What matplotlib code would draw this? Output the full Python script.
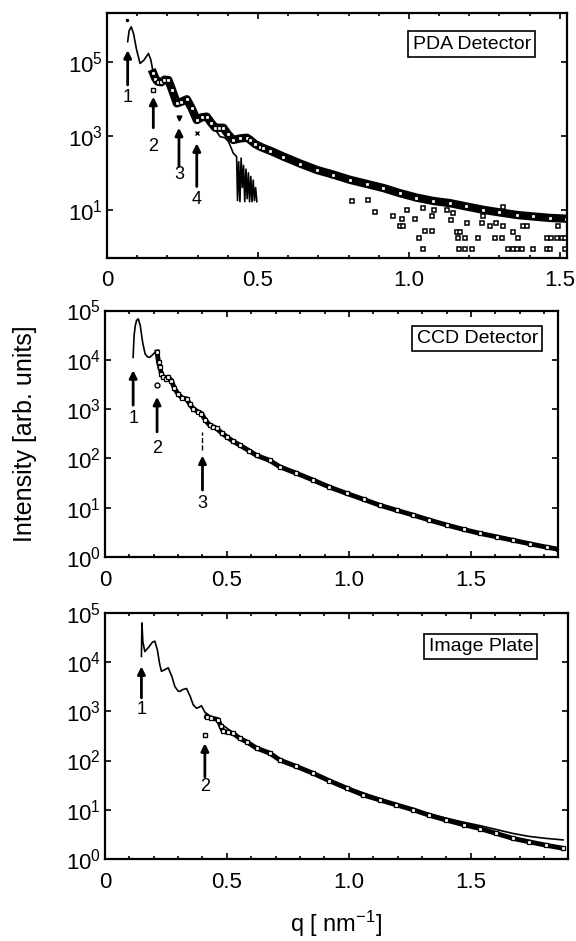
import numpy as np
import matplotlib.pyplot as plt

plt.rcParams['font.family'] = ['Liberation Sans', 'DejaVu Sans']
plt.rcParams['mathtext.fontset'] = 'custom'
plt.rcParams['mathtext.rm'] = 'Liberation Sans'
plt.rcParams['mathtext.it'] = 'Liberation Sans:italic'

# ---- PDA detector (intensities stored as log10) ----
pda_line_q = [0.068, 0.073, 0.080, 0.088, 0.097, 0.109, 0.122, 0.137, 0.145, 0.153,
              0.167, 0.185, 0.203, 0.215, 0.231, 0.248, 0.264, 0.280, 0.297, 0.313,
              0.330, 0.345, 0.360, 0.374, 0.390, 0.402, 0.418, 0.429, 0.432, 0.436,
              0.440, 0.444, 0.448, 0.452, 0.456, 0.460, 0.464, 0.468, 0.472, 0.476,
              0.480, 0.484, 0.488, 0.492, 0.496]
pda_line_logI = [5.55, 5.85, 5.95, 5.75, 5.35, 4.96, 5.05, 5.23, 5.05, 4.69,
                 4.47, 4.48, 4.51, 4.25, 3.88, 3.94, 3.99, 3.72, 3.43, 3.48,
                 3.52, 3.33, 3.15, 2.98, 2.95, 2.85, 2.53, 2.44, 1.25, 2.30,
                 1.22, 2.40, 1.60, 2.20, 1.22, 2.10, 1.30, 2.00, 1.22, 1.90,
                 1.22, 1.80, 1.25, 1.60, 1.22]
pda_q = [0.153, 0.160, 0.167, 0.180, 0.190, 0.203, 0.215, 0.231, 0.245, 0.264,
         0.280, 0.297, 0.313, 0.330, 0.345, 0.358, 0.372, 0.385, 0.400, 0.418,
         0.440, 0.463, 0.474, 0.490, 0.507, 0.518, 0.540, 0.584, 0.640, 0.694,
         0.750, 0.805, 0.860, 0.915, 0.970, 1.025, 1.080, 1.136, 1.190, 1.246,
         1.300, 1.357, 1.410, 1.467, 1.520]
pda_logI = [4.69, 4.55, 4.47, 4.45, 4.52, 4.51, 4.25, 3.88, 3.92, 3.99,
            3.75, 3.43, 3.50, 3.52, 3.35, 3.22, 3.22, 3.22, 3.05, 2.89,
            2.93, 2.95, 2.89, 2.78, 2.71, 2.67, 2.60, 2.44, 2.25, 2.08,
            1.95, 1.81, 1.70, 1.59, 1.45, 1.33, 1.24, 1.18, 1.09, 1.00,
            0.93, 0.86, 0.82, 0.78, 0.76]
pda_scatter_q = [0.810, 0.887, 0.865, 0.948, 0.976, 0.970, 0.981, 1.020, 1.034, 1.047,
                 1.053, 1.078, 1.075, 1.083, 1.141, 1.158, 1.169, 1.163, 1.185, 1.167,
                 1.185, 1.208, 1.191, 1.230, 1.241, 1.268, 1.285, 1.307, 1.290, 1.312,
                 1.312, 1.329, 1.345, 1.357, 1.373, 1.362, 1.379, 1.390, 1.412, 1.456,
                 1.472, 1.489, 1.506, 1.517, 1.456, 1.467, 1.517, 1.494, 1.345, 0.992,
                 1.047, 1.125, 1.147, 1.246]
pda_scatter_logI = [1.24, 0.93, 1.27, 0.82, 0.75, 0.57, 0.57, 0.75, 0.24, -0.06,
                    0.43, 0.43, 0.82, 1.00, 0.73, 0.41, 0.41, 0.24, 0.24, -0.06,
                    -0.06, -0.06, 0.64, 0.24, 0.64, 0.55, 0.24, 0.24, 0.64, 1.07,
                    0.55, -0.06, -0.06, -0.06, -0.06, 0.24, 0.55, 0.55, -0.06, 0.24,
                    0.24, 0.24, 0.24, 0.24, -0.06, -0.06, -0.06, 0.55, 0.41, 1.00,
                    1.04, 1.00, 0.91, 0.82]
# arrows: q, head, tail, label position (log10)
pda_arrow_q = [0.068, 0.153, 0.238, 0.297]
pda_arrow_head = [5.32, 4.06, 3.22, 2.80]
pda_arrow_tail = [4.38, 3.22, 2.17, 1.63]
pda_arrow_label = [4.03, 2.71, 1.95, 1.27]

# ---- CCD detector ----
ccd_line_q = [0.116, 0.118, 0.120, 0.125, 0.130, 0.137, 0.145, 0.155, 0.165, 0.175,
              0.184, 0.195, 0.205, 0.214]
ccd_line_logI = [4.05, 4.30, 4.50, 4.70, 4.80, 4.83, 4.70, 4.35, 4.12, 4.06,
                 4.05, 4.10, 4.15, 4.16]
ccd_q = [0.214, 0.220, 0.225, 0.232, 0.239, 0.250, 0.260, 0.273, 0.285, 0.300,
         0.318, 0.335, 0.348, 0.362, 0.380, 0.396, 0.412, 0.430, 0.445, 0.458,
         0.478, 0.499, 0.525, 0.553, 0.590, 0.622, 0.676, 0.717, 0.785, 0.854,
         0.920, 0.991, 1.060, 1.127, 1.195, 1.264, 1.330, 1.400, 1.470, 1.537,
         1.605, 1.673, 1.740, 1.810, 1.857]
ccd_logI = [4.16, 3.95, 3.85, 3.72, 3.65, 3.62, 3.65, 3.58, 3.42, 3.31,
            3.22, 3.21, 3.10, 3.01, 2.95, 2.91, 2.78, 2.67, 2.64, 2.61,
            2.52, 2.44, 2.35, 2.27, 2.16, 2.06, 1.96, 1.83, 1.70, 1.56,
            1.42, 1.29, 1.17, 1.05, 0.95, 0.85, 0.75, 0.65, 0.56, 0.48,
            0.41, 0.34, 0.27, 0.20, 0.16]
ccd_arrow_q = [0.116, 0.214, 0.400]
ccd_arrow_head = [3.79, 3.25, 2.06]
ccd_arrow_tail = [3.08, 2.54, 1.36]
ccd_arrow_label = [2.81, 2.20, 1.09]

# ---- Image plate ----
ip_line_q = [0.150, 0.152, 0.156, 0.164, 0.180, 0.195, 0.205, 0.215, 0.225, 0.232,
             0.245, 0.260, 0.275, 0.287, 0.300, 0.307, 0.320, 0.335, 0.350, 0.362,
             0.376, 0.386, 0.396, 0.410, 0.600, 0.900, 1.200, 1.330, 1.400, 1.470,
             1.537, 1.605, 1.673, 1.740, 1.810, 1.878]
ip_line_logI = [4.11, 4.79, 4.40, 4.21, 4.30, 4.40, 4.42, 4.25, 3.95, 3.81,
                3.84, 3.88, 3.70, 3.50, 3.41, 3.40, 3.44, 3.46, 3.30, 3.13,
                3.06, 3.08, 3.11, 2.98, 2.30, 1.62, 1.10, 0.92, 0.83, 0.75,
                0.68, 0.60, 0.52, 0.46, 0.42, 0.39]
ip_q = [0.417, 0.437, 0.464, 0.475, 0.485, 0.505, 0.526, 0.553, 0.581, 0.622,
        0.676, 0.717, 0.785, 0.854, 0.920, 0.991, 1.060, 1.127, 1.195, 1.264,
        1.330, 1.400, 1.470, 1.537, 1.605, 1.673, 1.740, 1.810, 1.878]
ip_logI = [2.89, 2.86, 2.83, 2.70, 2.59, 2.57, 2.55, 2.45, 2.38, 2.25,
           2.15, 2.01, 1.88, 1.74, 1.59, 1.44, 1.30, 1.20, 1.10, 1.00,
           0.89, 0.79, 0.70, 0.62, 0.52, 0.42, 0.35, 0.28, 0.22]
ip_arrow_q = [0.150, 0.410]
ip_arrow_head = [3.91, 2.35]
ip_arrow_tail = [3.27, 1.67]
ip_arrow_label = [3.03, 1.47]


def style_axes(ax, xmax, ylo, yhi, yticks):
    ax.set_yscale('log')
    ax.set_xlim(0, xmax)
    ax.set_ylim(ylo, yhi)
    ax.set_xticks([0, 0.5, 1.0, 1.5])
    ax.set_xticklabels(['0', '0.5', '1.0', '1.5'])
    ax.set_xticks(np.arange(0.1, xmax, 0.1), minor=True)
    ax.set_yticks(yticks)
    ax.set_yticklabels([r'$10^{%d}$' % int(round(np.log10(t))) for t in yticks])
    ax.tick_params(which='both', direction='in', top=True, right=True,
                   labelsize=16, width=1.2)
    ax.tick_params(which='major', length=4)
    ax.tick_params(which='minor', length=2.5)
    ax.tick_params(axis='x', pad=9)
    ax.tick_params(axis='y', pad=3)
    for s in ax.spines.values():
        s.set_linewidth(1.6)


def draw_arrows(ax, qs, heads, tails, labels):
    for i, q in enumerate(qs):
        ax.annotate('', xy=(q, 10 ** heads[i]), xytext=(q, 10 ** tails[i]),
                    arrowprops=dict(arrowstyle='-|>', color='k', lw=2,
                                    mutation_scale=11, shrinkA=0, shrinkB=0))
        ax.text(q, 10 ** labels[i], str(i + 1), ha='center', va='center',
                fontsize=13)


def draw_band(ax, q, logI, lw):
    I = 10 ** np.array(logI)
    ax.plot(q, I, '-', color='k', lw=lw, solid_joinstyle='round')
    ax.plot(q, I, 's', ms=3.0, mfc='white', mec='k', mew=0.9)


def label_box(ax, x, y, text):
    ax.text(x, y, text, transform=ax.transAxes, ha='center', va='center',
            fontsize=14, bbox=dict(boxstyle='square,pad=0.22', fc='white',
                                   ec='k', lw=1.2))


fig = plt.figure(figsize=(5.76, 9.41), dpi=100)

# PDA
ax1 = fig.add_axes([0.186, 0.726, 0.798, 0.260])
style_axes(ax1, 1.523, 10 ** -0.30, 10 ** 6.32, [1e1, 1e3, 1e5])
ax1.plot(pda_line_q, 10 ** np.array(pda_line_logI), color='k', lw=1.2)
draw_band(ax1, pda_q, pda_logI, 6)
ax1.plot(pda_scatter_q, 10 ** np.array(pda_scatter_logI), 's', ms=3.2,
         mfc='white', mec='k', mew=1.1)
ax1.plot([0.065], [10 ** 6.13], 'k.', ms=3)
ax1.plot([0.153], [10 ** 4.24], 's', ms=3.5, mfc='white', mec='k', mew=1)
ax1.plot([0.238], [10 ** 3.48], 'kv', ms=3.5)
ax1.plot([0.297], [10 ** 3.09], 'kx', ms=3.5, mew=1)
draw_arrows(ax1, pda_arrow_q, pda_arrow_head, pda_arrow_tail, pda_arrow_label)
label_box(ax1, 0.793, 0.873, 'PDA Detector')

# CCD
ax2 = fig.add_axes([0.182, 0.408, 0.787, 0.262])
style_axes(ax2, 1.857, 1, 1e5, [1e0, 1e1, 1e2, 1e3, 1e4, 1e5])
ax2.plot(ccd_line_q, 10 ** np.array(ccd_line_logI), color='k', lw=1.2)
draw_band(ax2, ccd_q, ccd_logI, 3.5)
ax2.plot([0.214], [10 ** 3.48], 'o', ms=3.5, mfc='white', mec='k', mew=1)
ax2.vlines(0.400, 10 ** 2.17, 10 ** 2.54, colors='k', linestyles='--', lw=1)
draw_arrows(ax2, ccd_arrow_q, ccd_arrow_head, ccd_arrow_tail, ccd_arrow_label)
label_box(ax2, 0.822, 0.887, 'CCD Detector')
ax2.set_ylabel('Intensity [arb. units]', fontsize=18)
ax2.yaxis.set_label_coords(-0.15, 0.5)

# Image plate
ax3 = fig.add_axes([0.182, 0.087, 0.804, 0.262])
style_axes(ax3, 1.898, 1, 1e5, [1e0, 1e1, 1e2, 1e3, 1e4, 1e5])
ax3.plot(ip_line_q, 10 ** np.array(ip_line_logI), color='k', lw=1.2)
draw_band(ax3, ip_q, ip_logI, 3.5)
ax3.plot([0.410], [10 ** 2.52], 's', ms=3.5, mfc='white', mec='k', mew=1)
draw_arrows(ax3, ip_arrow_q, ip_arrow_head, ip_arrow_tail, ip_arrow_label)
label_box(ax3, 0.812, 0.863, 'Image Plate')
ax3.set_xlabel(r'q [ nm$^{-1}$]', fontsize=17, labelpad=12)

fig.savefig('out.png', dpi=100)
